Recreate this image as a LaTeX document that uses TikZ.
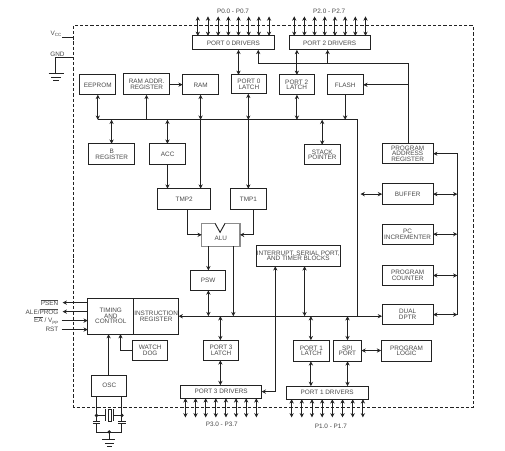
\documentclass[tikz,border=0pt]{standalone}
\usepackage{fontspec}
\setmainfont{Liberation Sans}
\usetikzlibrary{arrows.meta,calc}
\definecolor{ink}{HTML}{222222}
\definecolor{txt}{HTML}{4A4A4A}
\newcommand\bx[6]{\node[block,minimum width={(#4-#2)*0.75pt},minimum height={(#5-#3)*0.75pt}] (#1) at ({(#2+#4)/2},{(#3+#5)/2}) {#6};}
\newcommand\subs[1]{\raisebox{-1pt}{\fontsize{3.4}{3.4}\selectfont #1}}
\newcommand\ovl[1]{\leavevmode\rlap{\raisebox{4pt}{\rule{\widthof{#1}}{0.4pt}}}#1}
\usepackage{calc}
\tikzset{
  x=0.75pt,y=-0.75pt,
  >={Stealth[length=3.2pt,width=3.2pt]},
  every path/.style={line width=0.7pt,draw=ink},
  block/.style={draw=ink,line width=0.75pt,inner sep=0pt,outer sep=0pt,align=center,text=txt,
    font=\fontsize{4.8}{4.2}\selectfont},
  sig/.style={inner sep=0pt,outer sep=0pt,text=txt,font=\fontsize{4.8}{4.2}\selectfont},
  frame/.style={dashed,dash pattern=on 2.4pt off 1.5pt,line width=0.7pt},
  conn/.style={<->},
}
\begin{document}
\begin{tikzpicture}
\useasboundingbox (0,0) rectangle (505,450);
\fill[white] (0,0) rectangle (505,450);
\draw[frame] (73.3,25.5) rectangle (473.7,407.3);
% blocks
\bx{pod}{192.5}{35.5}{274.3}{49.5}{PORT 0 DRIVERS}
\bx{ptd}{289.3}{35.5}{370.3}{49.5}{PORT 2 DRIVERS}
\bx{eeprom}{79.5}{74.5}{115.5}{94.5}{EEPROM}
\bx{raddr}{123.5}{73.5}{169.5}{94.5}{RAM ADDR.\\REGISTER}
\bx{ram}{182.5}{74.5}{218.5}{94.5}{RAM}
\bx{pol}{231.5}{74.5}{266.3}{93.5}{PORT 0\\LATCH}
\bx{ptl}{279.3}{74.5}{314.3}{94.5}{PORT 2\\LATCH}
\bx{flash}{327.3}{74.5}{363.5}{94.5}{FLASH}
\bx{breg}{88.5}{143.5}{134.5}{164.5}{B\\REGISTER}
\bx{acc}{149.5}{143.5}{185.5}{164.5}{ACC}
\bx{sp}{304.3}{144.5}{340.5}{164.5}{STACK\\POINTER}
\bx{par}{382.3}{143.5}{433.5}{163.5}{PROGRAM\\ADDRESS\\REGISTER}
\bx{buf}{382.3}{183.5}{433.5}{204.5}{BUFFER}
\bx{tmpb}{157.5}{188.5}{210.5}{209.5}{TMP2}
\bx{tmpa}{230.5}{188.5}{266.5}{209.5}{TMP1}
\bx{psw}{190.5}{270.3}{225.5}{290.5}{PSW}
\bx{timing}{87.5}{298.3}{133.5}{334.3}{TIMING\\AND\\CONTROL}
\bx{ir}{133.5}{298.3}{178.5}{334.3}{INSTRUCTION\\REGISTER}
\bx{wd}{132.5}{340.3}{167.5}{360.5}{WATCH\\DOG}
\bx{pthl}{203.5}{340.3}{238.5}{360.5}{PORT 3\\LATCH}
\bx{osc}{91.5}{375.3}{126.5}{396.5}{OSC}
\bx{pthd}{180.5}{385.3}{261.7}{398.5}{PORT 3 DRIVERS}
\bx{pad}{286.3}{386.3}{368.3}{399.5}{PORT 1 DRIVERS}
\bx{pal}{293.3}{340.3}{329.7}{361.5}{PORT 1\\LATCH}
\bx{spi}{333.3}{340.3}{361.7}{361.5}{SPI\\PORT}
\bx{pl}{381.3}{340.3}{432.3}{361.5}{PROGRAM\\LOGIC}
\bx{pc}{382.3}{224}{433.5}{244.3}{PC\\INCREMENTER}
\bx{pcnt}{382.3}{265.7}{433.5}{285.3}{PROGRAM\\COUNTER}
\bx{dptr}{382.3}{304.3}{433.5}{325}{DUAL\\DPTR}
\bx{intr}{256.3}{245.3}{340.3}{266.3}{INTERRUPT, SERIAL PORT,\\AND TIMER BLOCKS}
% ALU
\node[block,draw=black!45,line width=1pt,minimum width=28.7pt,minimum height=17.2pt,
  label={[sig,yshift=-2.4pt]center:ALU}] (alu) at (220.8,234.8) {};
\fill[white] (215,222) -- (225,222) -- (220,232.3) -- cycle;
\draw (215,223.3) -- (220,232.3) -- (225,223.3);
% bus coordinates
\coordinate (ub) at (97.5,119.5);
\coordinate (ube) at (357.3,119.5);
\coordinate (lb) at (178.5,316.3);
\coordinate (rbt) at (457.7,153.5);
\coordinate (rbb) at (457.7,314.7);
\coordinate (pb) at (408.3,63.3);
\draw (ub) -- (ube) -- (ube |- lb);
\draw[<->] (ir.east |- lb) -- (dptr.west |- lb);
\draw[<-] (par.east |- rbt) -- (rbt) -- (rbb);
% pins
\foreach \i in {0,...,7}{
  \draw[conn] ($(pod.north west)+({5.2+10.2*\i},0)$) -- ++(0,-19.5);
  \draw[conn] ($(ptd.north west)+({5+10.2*\i},0)$) -- ++(0,-19.5);
  \draw[conn] ($(pthd.south west)+({4.8+10.15*\i},0)$) -- ++(0,19.2);
  \draw[conn] ($(pad.south west)+({5.4+10.2*\i},0)$) -- ++(0,18.2);
}
\node[sig] (lpa) at (233,11) {P0.0 - P0.7};
\node[sig] (lpb) at (329.3,11) {P2.0 - P2.7};
\node[sig] (lpc) at (221.7,425) {P3.0 - P3.7};
\node[sig] (lpd) at (331,427) {P1.0 - P1.7};
% vertical links
\coordinate (xa) at (238.5,0);
\coordinate (xb) at (248.3,0);
\coordinate (xc) at (297,0);
\coordinate (xd) at (345.3,0);
\coordinate (xe) at (322.3,0);
\coordinate (xf) at (97.5,0);
\coordinate (xg) at (146.3,0);
\coordinate (xh) at (200.5,0);
\coordinate (xi) at (111.3,0);
\coordinate (xj) at (167.3,0);
\coordinate (xk) at (208.3,0);
\coordinate (xl) at (233.3,0);
\coordinate (xm) at (220.3,0);
\coordinate (xn) at (304.7,0);
\coordinate (xo) at (311,0);
\coordinate (xp) at (347.7,0);
\coordinate (xq) at (258.3,0);
\coordinate (xr) at (327.7,0);
\coordinate (xs) at (408.3,0);
\coordinate (xt) at (187.3,0);
\coordinate (xu) at (253.3,0);
\coordinate (xv) at (275.3,0);
\draw[conn] (pod.south -| xa) -- (pol.north -| xa);
\draw[conn] (pol.south -| xb) -- (xb |- ub);
\draw[->] (xb |- ub) -- (tmpa.north -| xb);
\draw[conn] (ptd.south -| xc) -- (ptl.north -| xc);
\draw[conn] (ptl.south -| xc) -- (xc |- ub);
\draw[->] (flash.south -| xd) -- (xd |- ub);
\draw[conn] (sp.north -| xe) -- (xe |- ub);
\draw[conn] (eeprom.south -| xf) -- (xf |- ub);
\draw[<-] (raddr.south -| xg) -- (xg |- ub);
\draw[->] (raddr.east |- 0,84.3) -- (ram.west |- 0,84.3);
\draw[conn] (ram.south -| xh) -- (xh |- ub);
\draw[->] (xh |- ub) -- (tmpb.north -| xh);
\draw[conn] (breg.north -| xi) -- (xi |- ub);
\draw[conn] (acc.north -| xj) -- (xj |- ub);
\draw[->] (acc.south -| xj) -- (tmpb.north -| xj);
\draw[->] (par.north -| xs) -- (pb) -- (xq |- pb) -- (pod.south -| xq);
\draw[->] (xr |- pb) -- (ptd.south -| xr);
\draw[->] (xs |- flash.east) -- (flash.east);
\draw[->] (tmpb.south -| xt) -- (xt |- alu.west) -- (alu.west);
\draw[->] (tmpa.south -| xu) -- (xu |- alu.east) -- (alu.east);
\draw[->] (alu.south -| xk) -- (psw.north -| xk);
\draw[->] (alu.south -| xl) -- (xl |- lb);
\draw[conn] (psw.south -| xk) -- (xk |- lb);
\draw[conn] (xm |- lb) -- (pthl.north -| xm);
\draw[conn] (pthl.south -| xm) -- (pthd.north -| xm);
\draw[conn] (pthd.east) -- (xv |- pthd.east) -- (intr.south -| xv);
\draw[conn] (intr.south -| xn) -- (xn |- lb);
\draw[conn] (xo |- lb) -- (pal.north -| xo);
\draw[conn] (pal.south -| xo) -- (pad.north -| xo);
\draw[conn] (xp |- lb) -- (spi.north -| xp);
\draw[conn] (spi.south -| xp) -- (pad.north -| xp);
\draw[conn] (spi.east |- 0,350.7) -- (pl.west |- 0,350.7);
% right side
\draw[conn] (360.7,194) -- (buf.west);
\draw[conn] (buf.east) -- (rbt |- buf.east);
\draw[conn] (pc.east) -- (rbt |- pc.east);
\draw[conn] (pcnt.east) -- (rbt |- pcnt.east);
\draw[conn] (dptr.east |- rbb) -- (rbb);
% timing
\coordinate (xw) at (108.3,0);
\coordinate (xy) at (120.3,0);
\draw[->] (osc.north -| xw) -- (timing.south -| xw);
\draw[->] (wd.west) -- (xy |- wd.west) -- (timing.south -| xy);
% left signals
\node[sig,anchor=east] (psen) at (58,302.7) {\ovl{PSEN}};
\node[sig,anchor=east] (ale) at (58,311.7) {ALE/\ovl{PROG}};
\node[sig,anchor=east] (ea) at (58,320.7) {\ovl{EA} / V\subs{PP}};
\node[sig,anchor=east] (rst) at (58,329.7) {RST};
\draw[->] (timing.west |- psen) -- (62.3,302.7);
\draw[->] (timing.west |- ale) -- (62.3,311.7);
\draw[->] (61.3,320.7) -- (timing.west |- ea);
\draw[->] (61.3,329.7) -- (timing.west |- rst);
% power
\node[sig,anchor=east] (vcc) at (61,33.5) {V\subs{CC}};
\node[sig,anchor=west] (gnd) at (50,54) {GND};
\draw (61.7,37.3) -- (73.3,37.3);
\draw (73.3,57.3) -- (55.3,57.3) -- (55.3,73.3);
\draw (48.3,73.3) -- (63.3,73.3) (50.7,76.7) -- (60.7,76.7) (52.7,80) -- (58.7,80);
% crystal
\draw (96.2,396.5) -- (96.2,421.7) (92.7,421.7) -- (100,421.7);
\draw (121.7,396.5) -- (121.7,421.7) (118,421.7) -- (125.4,421.7);
\draw (92.7,424) -- (100,424) (118,424) -- (125.4,424);
\draw (96.2,424) -- (96.2,432.3) -- (121.7,432.3) -- (121.7,424);
\draw (96.2,415.7) -- (105.5,415.7) (105.5,409.3) -- (105.5,421.7);
\draw (107.7,409.3) rectangle (110.9,421.7);
\draw (113,409.3) -- (113,421.7) (113,415.7) -- (121.7,415.7);
\fill[ink] (96.2,415.7) circle (0.9pt) (121.7,415.7) circle (0.9pt) (109,432.3) circle (0.9pt);
\draw (109,432.3) -- (109,440);
\draw (102,440) -- (115,440) (104.5,443.5) -- (113.5,443.5) (106.5,446.5) -- (111.5,446.5);
\end{tikzpicture}
\end{document}
